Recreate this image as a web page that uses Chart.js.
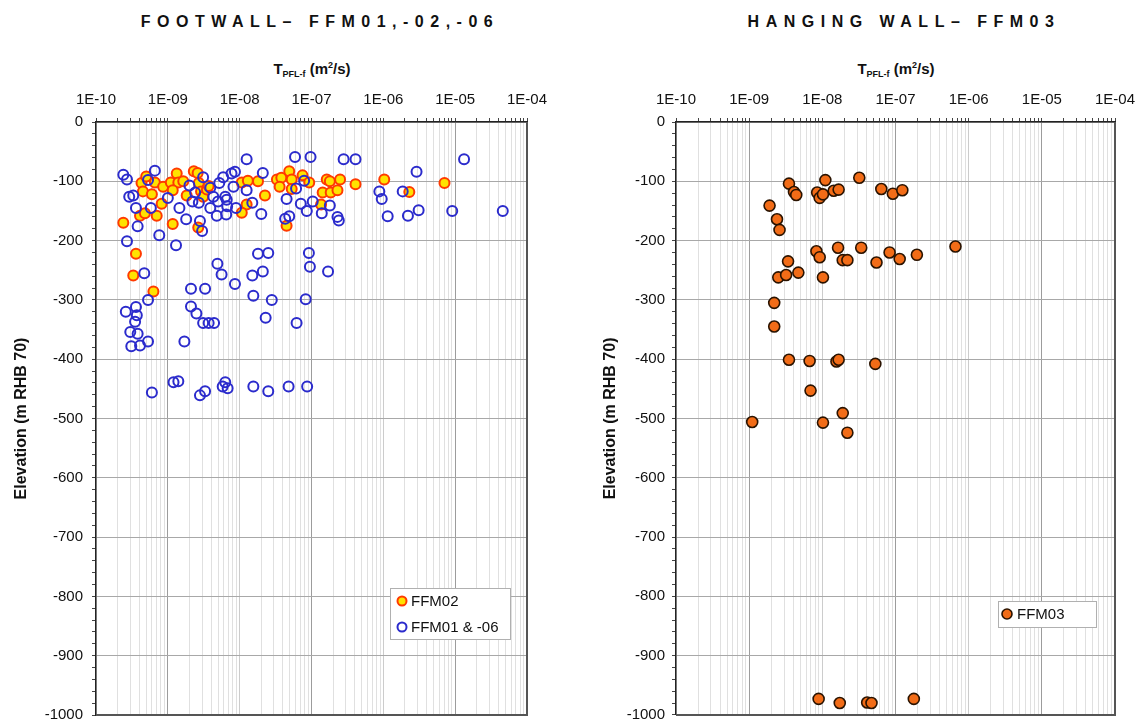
<!DOCTYPE html>
<html>
<head>
<meta charset="utf-8">
<script src="https://cdn.jsdelivr.net/npm/chart.js@4.4.0/dist/chart.umd.min.js"></script>
<style>
body { margin: 0; background: #fff; width: 1141px; height: 722px; position: relative; overflow: hidden; font-family: "Liberation Sans", Arial, sans-serif; color: #111; }
.panel { position: absolute; top: 0; height: 722px; }
.title { position: absolute; top: 12px; font-weight: bold; font-size: 16px; letter-spacing: 6.5px; white-space: nowrap; transform: translateX(-50%); line-height: 20px; }
.xtitle { position: absolute; top: 60px; font-weight: bold; font-size: 15px; white-space: nowrap; transform: translateX(-50%); line-height: 18px; }
.xtitle .sub { font-size: 9px; position: relative; top: 3px; }
.xtitle .sup { font-size: 9px; position: relative; top: -6px; }
</style>
</head>
<body>
<div class="title" style="left:320px">FOOTWALL– FFM01,-02,-06</div>
<div class="title" style="left:904px">HANGING WALL– FFM03</div>
<div class="xtitle" style="left:312px">T<span class="sub">PFL-f</span> (m<span class="sup">2</span>/s)</div>
<div class="xtitle" style="left:896px">T<span class="sub">PFL-f</span> (m<span class="sup">2</span>/s)</div>
<div class="panel" style="left:0;width:570px"><canvas id="footwall" width="570" height="722"></canvas></div>
<div class="panel" style="left:570px;width:571px"><canvas id="hanging" width="571" height="722"></canvas></div>
<script>
// decade labels on the top axis
const decadeLabels = ['1E-10', '1E-09', '1E-08', '1E-07', '1E-06', '1E-05', '1E-04'];
const elevTicks = [0, -100, -200, -300, -400, -500, -600, -700, -800, -900, -1000];

// FFM02 (footwall)
const ffm02T = [2.4e-10, 3.6e-10, 3.3e-10, 6.3e-10, 1.17e-9, 4.3e-10, 5.0e-10, 4.5e-10, 6.0e-10, 6.6e-10,
  8.6e-10, 1.1e-9, 1.33e-9, 1.4e-9, 1.17e-9, 1.64e-9, 8.2e-10, 7.0e-10, 4.1e-10, 4.8e-10,
  1.83e-9, 2.3e-9, 2.6e-9, 2.7e-9, 2.9e-9, 3.1e-9, 3.5e-9, 3.7e-9, 2.65e-9, 1.07e-8,
  1.3e-8, 1.8e-8, 1.25e-8, 1.07e-8, 2.25e-8, 3.3e-8, 3.8e-8, 4.9e-8, 5.3e-8, 3.6e-8,
  7.5e-8, 9.3e-8, 5.3e-8, 4.5e-8, 1.43e-7, 1.63e-7, 1.36e-7, 1.8e-7, 2.5e-7, 1.85e-7,
  2.3e-7, 4.1e-7, 1.03e-6, 2.3e-6, 7.1e-6];
const ffm02Elev = [-170, -222, -259, -286, -172, -103, -92, -117, -122, -102,
  -109, -102, -87, -102, -115, -100, -138, -158, -158, -154,
  -124, -83, -86, -103, -117, -126, -114, -108, -178, -102,
  -99, -100, -139, -153, -124, -97, -94, -83, -97, -109,
  -90, -102, -113, -175, -119, -97, -139, -100, -97, -119,
  -115, -105, -97, -118, -103];

// FFM01 & -06 (footwall)
const ffm01T = [2.4e-10, 2.7e-10, 6.6e-10, 5.3e-10, 1.25e-8, 8.6e-9, 7.7e-9, 5.9e-9, 3.1e-9, 2.0e-9,
  2.4e-9, 5.2e-9, 8.2e-9, 1.25e-8, 2.1e-8, 5.9e-8, 9.7e-8, 7.9e-8, 2.9e-10, 3.3e-10,
  1.0e-9, 1.45e-9, 2.2e-9, 2.7e-9, 3.9e-9, 4.3e-9, 5.0e-9, 6.3e-9, 6.6e-9, 6.7e-9,
  8.9e-9, 3.9e-9, 4.8e-9, 6.5e-9, 1.5e-8, 2.0e-8, 4.5e-8, 6.1e-8, 7.1e-8, 8.6e-8,
  1.04e-7, 4.3e-8, 4.9e-8, 3.6e-10, 5.8e-10, 3.8e-10, 7.6e-10, 1.3e-9, 1.8e-9, 2.8e-9,
  3.0e-9, 2.7e-10, 1.8e-8, 2.5e-8, 9.2e-8, 9.5e-8, 1.7e-7, 4.9e-9, 5.6e-9, 1.5e-8,
  2.1e-8, 8.6e-9, 4.7e-10, 2.1e-9, 3.3e-9, 1.55e-8, 2.8e-8, 8.3e-8, 5.3e-10, 3.6e-10,
  2.6e-10, 2.1e-9, 3.7e-10, 3.5e-10, 3.0e-10, 3.8e-10, 5.3e-10, 3.1e-10, 4.1e-10, 1.7e-9,
  2.5e-9, 3.1e-9, 3.7e-9, 4.4e-9, 2.3e-8, 6.2e-8, 6.0e-10, 1.2e-9, 1.4e-9, 2.8e-9,
  3.3e-9, 5.8e-9, 6.3e-9, 6.8e-9, 1.55e-8, 2.5e-8, 4.8e-8, 8.7e-8, 2.8e-7, 4.1e-7,
  1.33e-5, 2.9e-6, 8.8e-7, 9.5e-7, 1.86e-6, 1.8e-7, 1.39e-7, 2.3e-7, 2.4e-7, 1.15e-6,
  2.2e-6, 3.1e-6, 9.1e-6, 4.6e-5];
const ffm01Elev = [-89, -97, -82, -98, -63, -84, -87, -93, -93, -107,
  -119, -103, -109, -115, -86, -59, -59, -99, -126, -124,
  -128, -145, -134, -136, -111, -126, -134, -126, -131, -142,
  -145, -145, -158, -156, -136, -155, -130, -112, -138, -150,
  -134, -163, -159, -145, -145, -176, -191, -208, -164, -167,
  -184, -201, -222, -221, -221, -244, -252, -239, -257, -259,
  -252, -273, -255, -281, -281, -293, -300, -299, -300, -312,
  -320, -311, -326, -337, -354, -357, -370, -378, -377, -370,
  -323, -339, -339, -339, -330, -339, -456, -439, -437, -461,
  -454, -446, -439, -449, -446, -454, -446, -446, -63, -63,
  -63, -84, -117, -130, -117, -141, -154, -160, -166, -159,
  -158, -149, -150, -150];

// FFM03 (hanging wall)
const ffm03T = [1.9e-9, 2.4e-9, 2.6e-9, 3.5e-9, 4.1e-9, 4.4e-9, 8.5e-9, 9.2e-9, 1.02e-8, 1.1e-8,
  1.43e-8, 1.67e-8, 3.2e-8, 6.4e-8, 9.2e-8, 1.24e-7, 8.3e-9, 9.2e-9, 1.64e-8, 1.9e-8,
  2.2e-8, 3.4e-8, 5.5e-8, 8.3e-8, 1.14e-7, 1.96e-7, 6.6e-7, 3.4e-9, 2.5e-9, 3.2e-9,
  4.7e-9, 1.02e-8, 2.2e-9, 2.2e-9, 3.5e-9, 6.7e-9, 1.56e-8, 1.67e-8, 5.3e-8, 6.9e-9,
  1.1e-9, 1.02e-8, 1.9e-8, 2.2e-8, 8.9e-9, 1.73e-8, 4.1e-8, 4.7e-8, 1.78e-7];
const ffm03Elev = [-141, -164, -182, -104, -118, -123, -119, -128, -122, -98,
  -116, -114, -94, -113, -121, -115, -218, -228, -212, -233,
  -233, -212, -237, -220, -231, -224, -210, -235, -262, -258,
  -254, -262, -305, -345, -401, -403, -404, -401, -408, -453,
  -506, -507, -491, -524, -973, -980, -979, -980, -973];

const toPoints = (xs, ys) => xs.map((x, i) => ({ x: x, y: ys[i] }));

// log axis ticks: decades plus 2..9 in between
const decadeValues = decadeLabels.map(Number);
const xTickValues = [];
decadeValues.forEach((d, i) => {
  xTickValues.push(d);
  if (i < decadeValues.length - 1) {
    for (let m = 2; m <= 9; m++) xTickValues.push(m * d);
  }
});
const decadeIndex = v => decadeValues.findIndex(d => Math.abs(v / d - 1) < 1e-6);

const FONT = '"Liberation Sans", Arial, sans-serif';

const frame = {
  id: 'frame',
  afterDraw(chart) {
    const { ctx, chartArea: a } = chart;
    ctx.save();
    ctx.strokeStyle = '#555';
    ctx.lineWidth = 2;
    ctx.beginPath();
    ctx.moveTo(a.left, a.bottom);
    ctx.lineTo(a.right, a.bottom);
    ctx.lineTo(a.right, a.top);
    ctx.stroke();
    ctx.restore();
  }
};

const boxLegend = {
  id: 'boxLegend',
  afterDraw(chart, args, opts) {
    const ctx = chart.ctx;
    const b = opts.box;
    ctx.save();
    ctx.fillStyle = '#fff';
    ctx.fillRect(b.x, b.y, b.w, b.h);
    ctx.strokeStyle = '#b0b0b0';
    ctx.lineWidth = 1;
    ctx.strokeRect(b.x + 0.5, b.y + 0.5, b.w, b.h);
    opts.items.forEach((it, i) => {
      const ds = chart.data.datasets[it.dataset];
      const y = b.y + opts.firstRow + i * opts.rowGap;
      ctx.beginPath();
      ctx.arc(b.x + opts.markerX, y, ds.pointRadius - 0.5, 0, Math.PI * 2);
      ctx.fillStyle = ds.backgroundColor;
      ctx.fill();
      ctx.lineWidth = ds.borderWidth;
      ctx.strokeStyle = ds.borderColor;
      ctx.stroke();
      ctx.fillStyle = '#111';
      ctx.font = '15px ' + FONT;
      ctx.textBaseline = 'middle';
      ctx.textAlign = 'left';
      ctx.fillText(it.label, b.x + opts.textX, y + 1);
    });
    ctx.restore();
  }
};

function makeOptions(cfg) {
  return {
    responsive: false,
    animation: false,
    devicePixelRatio: 1,
    layout: { padding: { left: 0, top: 0, right: cfg.padRight, bottom: cfg.padBottom } },
    plugins: {
      legend: { display: false },
      tooltip: { enabled: false },
      boxLegend: cfg.legend
    },
    scales: {
      x: {
        type: 'logarithmic',
        position: 'top',
        min: decadeValues[0],
        max: decadeValues[decadeValues.length - 1],
        afterBuildTicks: s => { s.ticks = xTickValues.map(v => ({ value: v })); },
        afterFit: s => { s.height = cfg.xHeight; s.paddingLeft = 0; s.paddingRight = 0; },
        ticks: {
          autoSkip: false, maxRotation: 0, minRotation: 0, padding: 9,
          color: '#111', font: { family: FONT, size: 15 },
          callback: v => { const k = decadeIndex(v); return k >= 0 ? decadeLabels[k] : ''; }
        },
        grid: {
          color: c => {
            const k = decadeIndex(c.tick.value);
            if (k < 0) return '#e0e0e0';
            return k % 2 === 1 ? '#9c9c9c' : '#cccccc';
          },
          tickColor: '#444', tickLength: 4
        },
        border: { display: true, color: '#222', width: 1.5 }
      },
      y: {
        type: 'linear',
        min: elevTicks[elevTicks.length - 1],
        max: elevTicks[0],
        afterFit: s => { s.width = cfg.yWidth; s.paddingTop = 0; s.paddingBottom = 0; },
        ticks: {
          stepSize: 20, autoSkip: false, padding: cfg.yTickPad,
          color: '#111', font: { family: FONT, size: 15 },
          callback: v => elevTicks.includes(v) ? String(v) : ''
        },
        grid: {
          color: c => elevTicks.includes(c.tick.value) ? '#a8a8a8' : 'rgba(0,0,0,0)',
          tickColor: '#444', tickLength: 4
        },
        border: { display: true, color: '#222', width: 1.5 },
        title: {
          display: true, text: 'Elevation (m RHB 70)', color: '#111',
          font: { family: FONT, size: 16, weight: 'bold' },
          padding: { top: cfg.yTitlePad, bottom: 0 }
        }
      }
    }
  };
}

new Chart(document.getElementById('footwall').getContext('2d'), {
  type: 'scatter',
  data: {
    datasets: [{
      label: 'FFM02',
      data: toPoints(ffm02T, ffm02Elev),
      backgroundColor: '#FFE200',
      borderColor: '#FF3A00',
      borderWidth: 2,
      pointRadius: 5,
      order: 2
    }, {
      label: 'FFM01 & -06',
      data: toPoints(ffm01T, ffm01Elev),
      backgroundColor: 'rgba(255,255,255,0)',
      borderColor: '#2B2BCC',
      borderWidth: 2,
      pointRadius: 5,
      order: 1
    }]
  },
  options: makeOptions({
    yWidth: 96, xHeight: 122, padRight: 43, padBottom: 7, yTickPad: 9, yTitlePad: 12,
    legend: {
      box: { x: 390, y: 588, w: 120, h: 51 },
      markerX: 12, textX: 21, firstRow: 13, rowGap: 26,
      items: [{ dataset: 0, label: 'FFM02' }, { dataset: 1, label: 'FFM01 & -06' }]
    }
  }),
  plugins: [frame, boxLegend]
});

new Chart(document.getElementById('hanging').getContext('2d'), {
  type: 'scatter',
  data: {
    datasets: [{
      label: 'FFM03',
      data: toPoints(ffm03T, ffm03Elev),
      backgroundColor: '#F26C17',
      borderColor: '#2A1300',
      borderWidth: 1.6,
      pointRadius: 5.5
    }]
  },
  options: makeOptions({
    yWidth: 106, xHeight: 122, padRight: 26, padBottom: 6, yTickPad: 7, yTitlePad: 31,
    legend: {
      box: { x: 428, y: 601, w: 98, h: 26 },
      markerX: 9, textX: 19, firstRow: 13, rowGap: 26,
      items: [{ dataset: 0, label: 'FFM03' }]
    }
  }),
  plugins: [frame, boxLegend]
});
</script>
</body>
</html>
